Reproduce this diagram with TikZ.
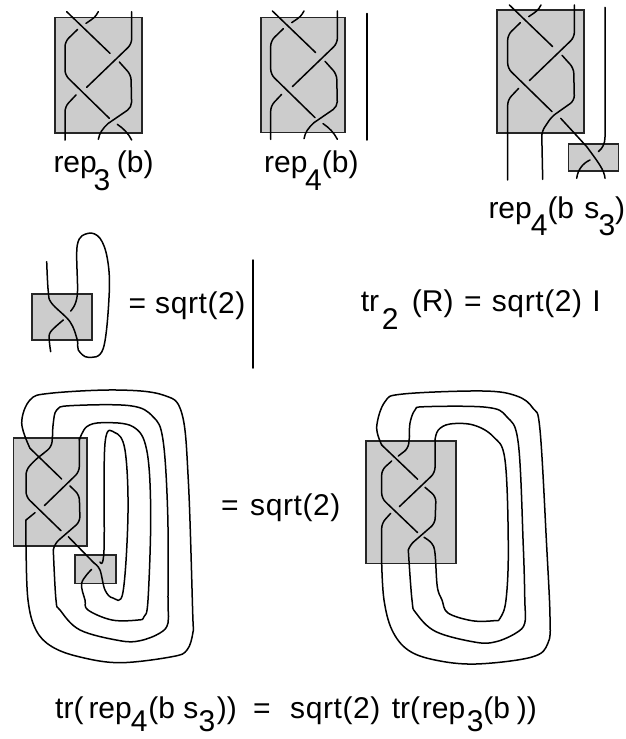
\documentclass[tikz,border=0pt]{standalone}
\usepackage{fontspec}
\setmainfont{Liberation Sans}
\newcommand{\w}[2]{\makebox[#1pt][l]{#2}}
\newcommand{\sbs}[2][-18]{\raisebox{#1pt}{#2}}
\newcommand{\sq}{{\addfontfeature{LetterSpace=2}sqrt(2)}}
\tikzset{
  strand/.style={draw=black,line width=1.5pt,line cap=round,line join=round},
  corner/.style={strand,rounded corners=5pt},
  curve/.style={strand,smooth,tension=0.6},
  tangle/.style={draw=black!85,fill=black!20,line width=1.6pt},
  label/.style={anchor=base west,inner sep=0pt,font=\fontsize{30}{32}\selectfont},
}
\newcommand{\braidcore}{%
  \draw[strand] (110,35)--(240,160);
  \draw[strand] (205,35) .. controls (195,52) .. (168,70);
  \draw[corner] (143,88)--(105,125)--(105,225)--(238,355);
  \draw[corner] (305,35)--(305,132)--(170,262);
}
\begin{document}
\begin{tikzpicture}[x=1pt,y=-1pt]
\useasboundingbox (0,0) rectangle (625,739);

% rep_3(b)
\draw[tangle] (55,17.3) rectangle (142,133);
\begin{scope}[shift={(30,0)},scale=1/3]
  \braidcore
  \draw[corner] (268,186)--(303,225)--(305,322)--(235,370);
  \draw[strand] (235,370) .. controls (218,385) and (208,400) .. (205,418);
  \draw[strand] (262,373) .. controls (280,385) and (295,400) .. (305,420);
  \draw[corner] (138,285)--(105,320)--(105,420);
\end{scope}
\node[label] (l1) at (53.3,172) {\w{40}{rep}\w{23.4}{\sbs{3}}(b)};

% rep_4(b)
\draw[tangle] (260.7,17.3) rectangle (345,132.3);
\begin{scope}[shift={(235.7,-0.7)},scale=1/3]
  \braidcore
  \draw[corner] (268,186)--(303,225)--(305,322)--(235,370);
  \draw[strand] (235,370) .. controls (218,385) and (208,400) .. (205,418);
  \draw[strand] (262,373) .. controls (280,385) and (295,400) .. (305,420);
  \draw[corner] (138,285)--(105,320)--(105,420);
\end{scope}
\coordinate (v1a) at (367,13.5);
\coordinate (v1b) at (367,140);
\draw[strand] (v1a)--(v1b);
\node[label] (l2) at (264,172) {\w{41}{rep}\w{16.7}{\sbs{4}}(b)};

% rep_4(b s_3)
\draw[tangle] (496.7,10) rectangle (584,132.7);
\draw[tangle] (568.3,144) rectangle (618.3,171);
\begin{scope}[shift={(472.7,-6.7)},scale=1/3]
  \braidcore
  \draw[corner] (268,186)--(303,225)--(305,322)--(237,370)--(207,415)--(210,558);
  \draw[corner] (138,285)--(105,320)--(105,560);
  \draw[strand] (264,375)--(342,460) .. controls (375,505) and (395,530) .. (397,555);
  \draw[strand] (397,42)--(397,430) .. controls (397,450) and (390,465) .. (377,475);
  \draw[strand] (352,500) .. controls (330,510) and (315,530) .. (312,555);
\end{scope}
\node[label] (l3) at (488.3,218) {\w{42.4}{rep}\w{16.6}{\sbs[-17]{4}}\w{37}{(b}\w{14}{s}\w{16.7}{\sbs[-17]{3}})};

% R partial trace
\draw[tangle] (31.7,294) rectangle (92,340);
\draw[curve] plot coordinates {(46.7,261.7) (48.3,291.7) (51.7,303.3) (70,321.7) (77.3,340) (78.3,350) (88.3,357.3) (103.3,348.3) (109.3,291.7) (107.3,258.3) (100,238.3) (88.3,233.3) (77.3,245) (77.3,295) (70.7,311)};
\draw[curve] plot coordinates {(63.3,320) (50.7,331.7) (49.3,340) (50.7,351.7)};
\node[label] (l4) at (128.3,313) {\w{26.7}{=}\sq};
\coordinate (v2a) at (253,260);
\coordinate (v2b) at (253,368);
\draw[strand] (v2a)--(v2b);
\node[label] (l5) at (360.7,311.7) {\w{21}{tr}\w{30}{\sbs{2}}\w{52.3}{(R)}\w{27.7}{=}\w{100.5}{\sq}I};

% left closure
\draw[tangle] (13.3,437.7) rectangle (86.7,546);
\draw[tangle] (75,555) rectangle (116,583.3);
\draw[corner] (61.7,479)--(30,448.3);
\draw[curve] plot coordinates {(30,448.3) (21.7,423) (30,400) (50,393.3) (116.7,390) (163,395) (181.7,413) (188.3,480) (192.7,613) (193,632) (187,650) (172,656.7) (120,662.7) (80,657) (52,646.7) (36,630) (28,600) (26,546.7) (26,520)};
\draw[corner] (26,520)--(35,512.7);
\draw[corner] (42.7,454)--(35,460)--(26,470)--(26,496.7)--(61,530.7);
\draw[corner] (42.7,454)--(51.7,446.7)--(52.5,436);
\draw[curve] plot coordinates {(52.5,436) (53.3,423) (56.7,410) (70,405.7) (130,405.7) (153,416.7) (163,440) (167.7,513) (168,600) (168,623) (160,633) (140,640.7) (120,640.7) (80,630) (60,610) (56,600) (53.3,550)};
\draw[corner] (53.3,550)--(55,543.3)--(80,521.7)--(79.3,495)--(70,486);
\draw[strand] (68.3,536.7)--(94,563);
\draw[curve] plot coordinates {(94,563) (100,570) (105,590) (113,598) (123,592) (128,513) (125,450) (115,432.7) (105,443.3) (104,550) (100,562)};
\draw[curve] plot coordinates {(91.7,569.3) (81.7,583) (85,600) (88,610) (112,620) (138,620) (144,616.7) (148,600) (150.7,513) (146.7,450) (133,426.7) (103,422.7) (86.7,426.7) (79.3,440)};
\draw[corner] (79.3,438)--(79.3,471.7)--(44.3,505.7);

\node[label] (l6) at (221,515) {\w{29}{=}\sq};

% right closure
\draw[tangle] (365.7,440.7) rectangle (455.7,563.3);
\draw[strand] (417.7,479.3)--(381.7,445);
\draw[curve] plot coordinates {(381.7,445) (376.7,426.7) (385,401.7) (403,394) (483,391) (516.7,396) (533,408.3) (540,430) (546.7,546.7) (550,617) (548,643) (532,657) (476,664) (435,660) (408,650) (392,630) (384,600) (381.7,563.3)};
\draw[corner] (381.7,563.3)--(381.7,523.3)--(390.7,513.3);
\draw[corner] (398.3,456)--(408.3,448.3)--(409.5,436);
\draw[curve] plot coordinates {(409.5,436) (410,423) (415,410) (425,406.7) (486.7,407.3) (506.7,416.7) (518.3,443.3) (523.3,546.7) (524.8,600) (524.8,623) (516,633) (496,641.7) (476,642.3) (436,631.7) (416,613) (412,600) (408.3,550)};
\draw[corner] (408.3,550)--(410,545)--(435,523.3)--(436,496.7)--(425,487.3);
\draw[corner] (399.3,506.7)--(435,472.7)--(435,440);
\draw[curve] plot coordinates {(435,440) (438.3,430) (450,424) (473.3,425) (493.3,436.7) (505,460) (508.3,546.7) (506,600) (500,618.3) (494,620.7) (472,620.7) (448,613) (442,600) (437.3,586.7) (435,553.3) (431.7,543.3) (424,537.3)};
\draw[corner] (417.7,532.7)--(381.7,498.3)--(381.7,470)--(391.7,461);

% caption
\node[label] (l7) at (55,718) {\w{33.3}{tr(}\w{42.4}{rep}\w{17.6}{\sbs[-13]{4}}\w{35}{(b}\w{15}{s}\w{18.4}{\sbs[-13]{3}}\w{36.3}{))}\w{37}{=}\w{101.7}{\sq}\w{30}{tr(}\w{45}{rep}\w{16.6}{\sbs[-13]{3}}\w{33.4}{(b}))};
\end{tikzpicture}
\end{document}
